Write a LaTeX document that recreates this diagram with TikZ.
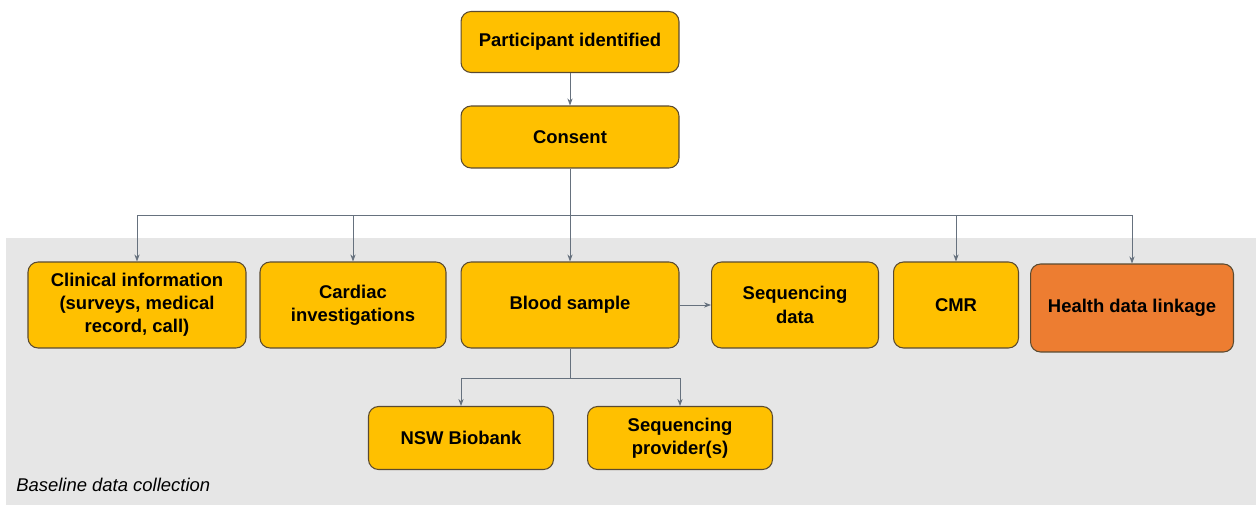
\documentclass[tikz,border=0pt]{standalone}
\usepackage{fontspec}
\setmainfont{Liberation Sans}
\usetikzlibrary{arrows.meta}
\definecolor{boxyellow}{HTML}{FFC000}
\definecolor{boxorange}{HTML}{ED7D31}
\definecolor{boxedge}{HTML}{5A4A30}
\definecolor{linkgrey}{HTML}{66717E}
\definecolor{bggrey}{HTML}{E6E6E6}

\begin{document}
\begin{tikzpicture}[x=0.02cm, y=-0.02cm,
    box/.style={draw=boxedge, line width=0.6pt, fill=boxyellow, rounded corners=0.2cm,
                align=center, inner sep=2pt, font=\bfseries\fontsize{10.5}{13.2}\selectfont},
    arr/.style={draw=linkgrey, line width=0.5pt, -{Stealth[length=4pt,width=3pt]}},
    link/.style={draw=linkgrey, line width=0.5pt}]
              \useasboundingbox (0,0) rectangle (1256,506);
              \fill [bggrey] (6,238) rectangle (1256,505);

              \node [box, minimum width=4.36cm, minimum height=1.22cm] (part) at (570,42) {Participant identified};
              \node [box, minimum width=4.36cm, minimum height=1.24cm] (cons) at (570,137) {Consent};

              \node [box, minimum width=4.36cm, minimum height=1.72cm] (clin) at (137,305) {Clinical information\\(surveys, medical\\record, call)};
              \node [box, minimum width=3.72cm, minimum height=1.72cm] (card) at (353,305) {Cardiac\\investigations};
              \node [box, minimum width=4.36cm, minimum height=1.72cm] (blood) at (570,305) {Blood sample};
              \node [box, minimum width=3.34cm, minimum height=1.72cm] (seqd) at (795,305) {Sequencing\\data};
              \node [box, minimum width=2.50cm, minimum height=1.72cm] (cmr) at (956,305) {CMR};
              \node [box, fill=boxorange, minimum width=4.06cm, minimum height=1.76cm] (health) at (1132,308) {Health data linkage};

              \node [box, minimum width=3.70cm, minimum height=1.26cm] (nsw) at (461,438) {NSW Biobank};
              \node [box, minimum width=3.70cm, minimum height=1.26cm] (seqp) at (680,438) {Sequencing\\provider(s)};

              \node [anchor=west, inner sep=0pt, font=\itshape\fontsize{10.5}{12}\selectfont] (base) at (16,485) {Baseline data collection};

              \coordinate (bus) at (570,215);
              \coordinate (fork) at (570,378);

              \draw [arr] (part) -- (cons);
              \draw [arr] (cons) -- (blood);
              \draw [arr] (bus) -| (clin);
              \draw [arr] (bus) -| (card);
              \draw [arr] (bus) -| (cmr);
              \draw [arr] (bus) -| (health);
              \draw [arr] (blood) -- (seqd);
              \draw [link] (blood) -- (fork);
              \draw [arr] (fork) -| (nsw);
              \draw [arr] (fork) -| (seqp);

            \end{tikzpicture}
\end{document}
